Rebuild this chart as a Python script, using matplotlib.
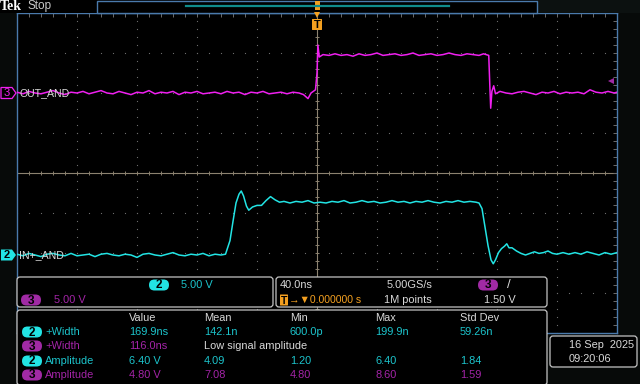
import numpy as np
import matplotlib
matplotlib.use("Agg")
import matplotlib.pyplot as plt
from matplotlib.patches import FancyBboxPatch, Rectangle, Polygon

plt.rcParams['font.family'] = ['Liberation Sans', 'DejaVu Sans']

# time in ns, level in volts
out_and_points = [
    (-200, 0.1), (-196, -0.1), (-192, 0.2), (-188, 0.0), (-184, -0.1), (-180, 0.1),
    (-176, 0.3), (-172, 0.0), (-168, -0.2), (-164, 0.1), (-160, 0.0), (-156, 0.2),
    (-152, -0.1), (-148, 0.1), (-144, 0.3), (-140, 0.0), (-136, -0.1), (-132, 0.2),
    (-128, 0.0), (-124, -0.2), (-120, 0.1), (-116, 0.0), (-112, 0.3), (-108, -0.1),
    (-104, 0.1), (-100, 0.0), (-96, 0.2), (-92, -0.2), (-88, 0.1), (-84, 0.0),
    (-80, 0.2), (-76, -0.1), (-72, 0.0), (-68, 0.1), (-64, -0.1), (-60, 0.2),
    (-56, 0.0), (-52, 0.1), (-48, -0.2), (-44, 0.1), (-40, 0.0), (-36, 0.2),
    (-32, -0.1), (-28, 0.0), (-24, 0.1), (-20, -0.1), (-16, 0.1), (-12, 0.0),
    (-9, -0.2), (-6, -0.7), (-4, 0.0), (-1, 0.4),
    (0, 2.5), (0.6, 6.0), (1.5, 4.5), (4, 4.8), (8, 4.7), (12, 4.9), (16, 4.7),
    (20, 4.8), (24, 4.6), (28, 4.9), (32, 4.7), (36, 4.8), (40, 5.0), (44, 4.7),
    (48, 4.8), (52, 4.9), (56, 4.7), (60, 4.8), (64, 5.0), (68, 4.7), (72, 4.8),
    (76, 4.9), (80, 4.7), (84, 4.8), (88, 5.0), (92, 4.8), (96, 4.7), (100, 4.9),
    (104, 4.8), (108, 4.7), (111, 4.9), (114.5, 4.7), (115.2, 1.0), (115.8, -1.9),
    (116.6, 0.2), (117.8, 0.9), (119, -0.1), (122, 0.2), (126, 0.0), (130, -0.1),
    (134, 0.1), (138, 0.2), (142, 0.0), (146, -0.2), (150, 0.1), (154, 0.0),
    (158, 0.2), (162, -0.1), (166, 0.1), (170, 0.0), (174, 0.1), (178, -0.1),
    (182, 0.4), (186, 0.1), (190, 0.0), (194, 0.2), (198, 0.0), (200, 0.1),
]

in_and_points = [
    (-200, 0.1), (-196, -0.1), (-192, 0.2), (-188, 0.0), (-184, -0.2), (-180, 0.1),
    (-176, 0.2), (-172, 0.0), (-168, -0.1), (-164, 0.2), (-160, -0.1), (-156, 0.0),
    (-152, 0.1), (-148, -0.2), (-144, 0.1), (-140, 0.2), (-136, 0.0), (-132, -0.1),
    (-128, 0.1), (-124, 0.0), (-120, -0.3), (-116, 0.1), (-112, 0.2), (-108, 0.0),
    (-104, -0.1), (-100, 0.1), (-96, 0.3), (-92, 0.0), (-88, -0.1), (-84, 0.1),
    (-80, 0.0), (-76, 0.2), (-72, -0.1), (-68, 0.1), (-64, 0.0), (-61, 0.1),
    (-58, 1.8), (-56, 4.2), (-54, 6.5), (-52, 7.6), (-50.5, 8.0), (-49, 7.4),
    (-47, 6.1), (-45.5, 5.6), (-43, 6.0), (-40, 6.2), (-37, 6.2), (-34, 6.8),
    (-31, 7.3), (-28, 6.9), (-25, 6.6), (-22, 6.7), (-18, 6.5), (-14, 6.7),
    (-10, 6.6), (-6, 6.8), (-2, 6.5), (2, 6.6), (6, 6.5), (10, 6.7), (14, 6.6),
    (18, 6.8), (22, 6.5), (26, 6.6), (30, 6.8), (34, 6.6), (38, 6.7), (42, 6.5),
    (46, 6.6), (50, 6.8), (54, 6.6), (58, 6.7), (62, 6.5), (66, 6.7), (70, 6.6),
    (74, 6.8), (78, 6.6), (82, 6.5), (86, 6.7), (90, 6.6), (94, 6.8), (98, 6.6),
    (102, 6.7), (106, 6.6), (108, 6.5), (110, 5.8), (112, 3.5), (114, 1.2),
    (116, -0.6), (117.5, -1.1), (119, -0.6), (121, 0.3), (123, 0.8), (125, 1.1),
    (126.5, 1.4), (128, 0.9), (130, 0.9), (133, 0.5), (136, 0.2), (139, 0.0),
    (142, 0.2), (145, 0.4), (148, 0.2), (151, 0.3), (154, 0.5), (157, 0.2),
    (160, 0.1), (164, 0.3), (168, 0.1), (172, 0.3), (176, 0.1), (180, 0.4),
    (184, 0.2), (188, 0.0), (192, 0.3), (196, 0.1), (200, 0.3),
]

volts_per_div = 5.0
ns_per_div = 40.0
out_offset_div = 2.0
in_offset_div = -2.05
trig_level_v = 1.5

meas_header = ["Value", "Mean", "Min", "Max", "Std Dev"]
meas_rows = [
    ("2", "+Width", ["169.9ns", "142.1n", "600.0p", "199.9n", "59.26n"]),
    ("3", "+Width", ["116.0ns", "Low signal amplitude", "", "", ""]),
    ("2", "Amplitude", ["6.40 V", "4.09", "1.20", "6.40", "1.84"]),
    ("3", "Amplitude", ["4.80 V", "7.08", "4.80", "8.60", "1.59"]),
]

CYAN = '#22e4e4'
CYAN_TXT = '#1cc4cc'
MAG = '#f020f0'
MAG_TXT = '#a424a8'
MAG_FILL = '#a02aa4'
ORANGE = '#f4a020'
FRAME = '#4a7aac'
GRID = '#6c6c6c'
CENTER = '#8c8270'
WHITE = '#d8d8d8'
FS = 7.9

fig = plt.figure(figsize=(6.4, 3.84), dpi=100, facecolor='#070a09')

# screen area
ax = fig.add_axes([17 / 640, (384 - 333) / 384, 600 / 640, 320 / 384])
ax.set_facecolor('black')
ax.set_xlim(-5 * ns_per_div, 5 * ns_per_div)
ax.set_ylim(-4, 4)
ax.set_xticks([])
ax.set_yticks([])
for s in ax.spines.values():
    s.set_color(FRAME)
    s.set_linewidth(1.0)

minor_x = np.arange(-200, 201, 8)
minor_y = np.arange(-4, 4.01, 0.2)
for gx in np.arange(-160, 161, 40):
    if gx != 0:
        ax.plot(np.full(minor_y.size, gx), minor_y, ls='none', marker='s',
                ms=0.8, mew=0, color=GRID)
for gy in np.arange(-3, 4, 1):
    if gy != 0:
        ax.plot(minor_x, np.full(minor_x.size, gy), ls='none', marker='s',
                ms=0.8, mew=0, color=GRID)

# center crosshair with ticks
ax.axhline(0, color=CENTER, lw=0.8)
ax.axvline(0, color=CENTER, lw=0.8)
ax.plot(minor_x, np.zeros(minor_x.size), ls='none', marker='|', ms=3.5, mew=0.7, color=CENTER)
ax.plot(np.zeros(minor_y.size), minor_y, ls='none', marker='_', ms=3.5, mew=0.7, color=CENTER)
# edge ticks
ax.plot(minor_x, np.full(minor_x.size, 3.95), ls='none', marker='|', ms=2.5, mew=0.7, color=GRID)
ax.plot(np.full(minor_y.size, 198.5), minor_y, ls='none', marker='_', ms=2.5, mew=0.7, color=GRID)

out_t, out_v = zip(*out_and_points)
in_t, in_v = zip(*in_and_points)
ax.plot(out_t, np.array(out_v) / volts_per_div + out_offset_div, color=MAG, lw=1.1, zorder=5)
ax.plot(in_t, np.array(in_v) / volts_per_div + in_offset_div, color=CYAN, lw=1.1, zorder=5)
ax.plot([196], [trig_level_v / volts_per_div + out_offset_div], marker='<', ms=5,
        color=MAG_FILL, mew=0, zorder=6)

# overlay in pixel coords
ov = fig.add_axes([0, 0, 1, 1])
ov.set_xlim(0, 640)
ov.set_ylim(384, 0)
ov.axis('off')
ov.patch.set_alpha(0)


def box(x0, y0, x1, y1, ec='#c4c4c4', fc='black', r=3, lw=0.9):
    ov.add_patch(FancyBboxPatch((x0 + r, y0 + r), x1 - x0 - 2 * r, y1 - y0 - 2 * r,
                                boxstyle='round,pad=%g' % r, ec=ec, fc=fc, lw=lw))


def pill(cx, cy, label, fill, w=20, h=11):
    ov.add_patch(FancyBboxPatch((cx - w / 2, cy - h / 2), w, h,
                                boxstyle='round,pad=0,rounding_size=%g' % (h / 2),
                                ec='none', fc=fill))
    ov.text(cx, cy + 0.5, label, color='black', fontsize=8.5, fontweight='bold',
            ha='center', va='center')


def txt(x, y, s, color=WHITE, size=FS, **kw):
    ov.text(x, y, s, color=color, fontsize=size, ha='left', va='center', **kw)


# top bar
ov.add_patch(Rectangle((0, 0), 640, 13, fc='black', ec='none'))
ov.add_patch(Rectangle((537, 0), 103, 13, fc='#0c1110', ec='none'))
ov.add_patch(Rectangle((97, 0.5), 440, 12.5, fc='none', ec=FRAME, lw=1.0))
ov.plot([186, 449], [6, 6], color='#108c8c', lw=1.6)
txt(0, 6.5, 'Tek', color='white', size=10, fontweight='bold', family='Liberation Serif')
txt(27, 6.5, 'Stop', color='#c8c8c8', size=8.5)
ov.add_patch(Rectangle((314.5, 1), 5, 9, fc=ORANGE, ec='none'))
ov.plot([317], [15], marker='v', ms=4.5, mew=0, color=ORANGE)
ov.add_patch(FancyBboxPatch((312.5, 19.5), 9, 10, boxstyle='round,pad=0.5',
                            fc=ORANGE, ec='none'))
ov.text(317, 25, 'T', color='black', fontsize=8, fontweight='bold', ha='center', va='center')

# channel markers
ov.add_patch(Polygon([(1, 87.5), (12, 87.5), (16, 93), (12, 98.5), (1, 98.5)],
                     closed=True, fc='black', ec=MAG, lw=0.9))
ov.text(7, 93.5, '3', color=MAG, fontsize=8, ha='center', va='center')
txt(19, 93, 'OUT_AND', size=7.6)
ov.add_patch(Polygon([(1, 249.5), (12, 249.5), (16, 255), (12, 260.5), (1, 260.5)],
                     closed=True, fc=CYAN, ec='none'))
ov.text(7, 255.5, '2', color='black', fontsize=8, fontweight='bold', ha='center', va='center')
txt(19, 255, 'IN+_AND', size=7.6)

# vertical settings panel
box(17, 277, 273, 307)
pill(159, 285, '2', CYAN)
txt(181, 285, '5.00 V', color=CYAN_TXT)
pill(31, 300, '3', MAG_FILL)
txt(54, 300, '5.00 V', color=MAG_TXT)

# horizontal / trigger panel
box(276, 277, 547, 307)
txt(280, 285, '40.0ns')
txt(387, 285, '5.00GS/s')
txt(384, 300, '1M points')
ov.add_patch(FancyBboxPatch((280.5, 295), 7, 10, boxstyle='round,pad=0.5', fc=ORANGE, ec='none'))
ov.text(284, 300.5, 'T', color='black', fontsize=7.5, fontweight='bold', ha='center', va='center')
txt(289, 300, '\u2192\u25bc0.000000 s', color=ORANGE, size=7.6)
pill(488, 285, '3', MAG_FILL)
txt(507, 285, '/', size=9.5)
txt(484, 300, '1.50 V')

# measurement panel
box(17, 310, 547, 385)
col_x = [129, 204, 290, 375, 460]
for x, h in zip(col_x, meas_header):
    txt(x, 318, h)
row_y = [332, 346, 361, 375]
for y, (ch, name, vals) in zip(row_y, meas_rows):
    c_txt = CYAN_TXT if ch == '2' else MAG_TXT
    c_fill = CYAN if ch == '2' else MAG_FILL
    pill(32, y, ch, c_fill)
    txt(45, y, name, color=c_txt)
    for x, v in zip(col_x, vals):
        if v == 'Low signal amplitude':
            txt(x, y, v)
        elif v:
            txt(x, y, v, color=c_txt)

# date panel
box(550, 336, 637, 367)
txt(569, 345, '16 Sep  2025')
txt(569, 359, '09:20:06')

fig.savefig('out.png', dpi=100, facecolor=fig.get_facecolor())
